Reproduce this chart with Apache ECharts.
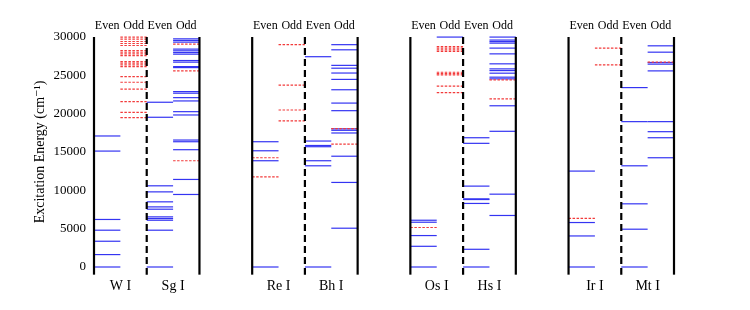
<!DOCTYPE html>
<html>
<head>
<meta charset="utf-8">
<script src="https://cdn.jsdelivr.net/npm/echarts@6/dist/echarts.min.js"></script>
<style>html,body{margin:0;padding:0;background:#fff;}#c{width:750px;height:310px;}</style>
</head>
<body>
<div id="c"></div>
<script>
// Element names (pairs share a group)
const elements = ['W I', 'Sg I', 'Re I', 'Bh I', 'Os I', 'Hs I', 'Ir I', 'Mt I'];
const parityLabels = ['Even', 'Odd'];
const yTicks = [0, 5000, 10000, 15000, 20000, 25000, 30000];

// Levels (cm^-1): solid blue and dashed red, for even and odd parity, per element
const W_evenBlue = [0, 1620, 3360, 4800, 6200, 15120, 17090];
const W_evenRed = [];
const W_oddBlue = [];
const W_oddRed = [19480, 20180, 21570, 23190, 24100, 24840, 26140, 26370, 26590, 26800, 27580, 27800, 28030, 28240, 28890, 29150, 29410, 29725, 29990];

const Sg_evenBlue = [0, 4800, 6100, 6320, 6540, 7540, 7840, 8500, 9800, 10590, 19530, 21490];
const Sg_evenRed = [];
const Sg_oddBlue = [9460, 11420, 15300, 16340, 16560, 19830, 20260, 21660, 22090, 22670, 22880, 26010, 26140, 26720, 26930, 27760, 27970, 28200, 28420, 29330, 29550, 29760];
const Sg_oddRed = [13860, 25580, 29070];

const Re_evenBlue = [0, 13860, 15160, 16340];
const Re_evenRed = [11760, 14250];
const Re_oddBlue = [];
const Re_oddRed = [19060, 20480, 23730, 29000];

const Bh_evenBlue = [0, 13200, 13860, 15690, 15850, 16430, 27430];
const Bh_evenRed = [];
const Bh_oddBlue = [5060, 11030, 14450, 17480, 17830, 18020, 20390, 21380, 23120, 24470, 25300, 25930, 26300, 28330, 29000];
const Bh_oddRed = [16040, 18060];

const Os_evenBlue = [0, 2700, 4100, 5840, 6100];
const Os_evenRed = [5150];
const Os_oddBlue = [29990];
const Os_oddRed = [22750, 23600, 25050, 25230, 25400, 28130, 28330, 28540, 28740];

const Hs_evenBlue = [0, 2310, 8290, 8800, 8890, 10550, 16130, 16860];
const Hs_evenRed = [];
const Hs_oddBlue = [6720, 9500, 17700, 21030, 24540, 24760, 25280, 25620, 25840, 26500, 27800, 28550, 29200, 29400, 29600, 29990];
const Hs_oddRed = [21920, 24410];

const Ir_evenBlue = [0, 4050, 5800, 12510];
const Ir_evenRed = [6330];
const Ir_oddBlue = [];
const Ir_oddRed = [26370, 28550];

const Mt_evenBlue = [0, 4930, 8240, 13200, 18960, 23400];
const Mt_evenRed = [];
const Mt_oddBlue = [14250, 16860, 17650, 18960, 25580, 26460, 26670, 28020, 28850];
const Mt_oddRed = [26720];

const evenBlue = [W_evenBlue, Sg_evenBlue, Re_evenBlue, Bh_evenBlue, Os_evenBlue, Hs_evenBlue, Ir_evenBlue, Mt_evenBlue];
const evenRed = [W_evenRed, Sg_evenRed, Re_evenRed, Bh_evenRed, Os_evenRed, Hs_evenRed, Ir_evenRed, Mt_evenRed];
const oddBlue = [W_oddBlue, Sg_oddBlue, Re_oddBlue, Bh_oddBlue, Os_oddBlue, Hs_oddBlue, Ir_oddBlue, Mt_oddBlue];
const oddRed = [W_oddRed, Sg_oddRed, Re_oddRed, Bh_oddRed, Os_oddRed, Hs_oddRed, Ir_oddRed, Mt_oddRed];

// layout in x-units: each group = 4 half-columns, plus 2 units gap
const GROUP = 6;
function elemStart(e) { return Math.floor(e / 2) * GROUP + (e % 2) * 2; }

const blueData = [], redData = [];
elements.forEach((name, e) => {
  const s = elemStart(e);
  evenBlue[e].forEach(v => blueData.push([s, v]));
  oddBlue[e].forEach(v => blueData.push([s + 1, v]));
  evenRed[e].forEach(v => redData.push([s, v]));
  oddRed[e].forEach(v => redData.push([s + 1, v]));
});

const vlines = [];
for (let g = 0; g < 4; g++) {
  vlines.push([g * GROUP, 0]);
  vlines.push([g * GROUP + 2, 1]);
  vlines.push([g * GROUP + 4, 0]);
}

const FONT = "'Liberation Serif', 'DejaVu Serif', serif";

function levelRenderer(color, dash, width) {
  return function (params, api) {
    const x0 = api.value(0), v = api.value(1);
    const p0 = api.coord([x0, v]);
    const p1 = api.coord([x0 + 1, v]);
    return {
      type: 'line',
      shape: { x1: p0[0], y1: p0[1], x2: p1[0], y2: p1[1] },
      style: { stroke: color, lineWidth: width, lineDash: dash }
    };
  };
}

const chart = echarts.init(document.getElementById('c'), null, { renderer: 'canvas' });
chart.setOption({
  animation: false,
  backgroundColor: '#fff',
  grid: { left: 94, right: 76, top: 37, bottom: 43 },
  xAxis: [
    {
      type: 'value', min: 0, max: 22, interval: 1, position: 'bottom',
      axisLine: { show: false }, axisTick: { show: false }, splitLine: { show: false },
      axisLabel: {
        margin: 12, fontFamily: FONT, fontSize: 14, color: '#000',
        formatter: function (v) {
          for (let e = 0; e < elements.length; e++) {
            if (Math.abs(elemStart(e) + 1 - v) < 1e-6) return elements[e];
          }
          return '';
        }
      }
    },
    {
      type: 'value', min: 0, max: 22, interval: 0.5, position: 'top',
      axisLine: { show: false }, axisTick: { show: false }, splitLine: { show: false },
      axisLabel: {
        margin: 5, fontFamily: FONT, fontSize: 12, color: '#000',
        formatter: function (v) {
          const k = v - Math.floor(v);
          if (Math.abs(k - 0.5) > 1e-6) return '';
          const u = Math.floor(v) % GROUP;
          if (u > 3) return '';
          return parityLabels[u % 2];
        }
      }
    }
  ],
  yAxis: {
    type: 'value', min: 0, max: 30000, interval: 5000,
    name: 'Excitation Energy (cm⁻¹)', nameLocation: 'middle', nameGap: 47,
    nameMoveOverlap: false,
    nameTextStyle: { fontFamily: FONT, fontSize: 14, color: '#000' },
    axisLine: { show: false }, axisTick: { show: false }, splitLine: { show: false },
    axisLabel: {
      margin: 8, fontFamily: FONT, fontSize: 13, color: '#000',
      formatter: function (v) { return String(v); }
    }
  },
  series: [
    {
      type: 'custom', xAxisIndex: 0, data: blueData, encode: { x: 0, y: 1 }, z: 2,
      renderItem: levelRenderer('#3434f2', null, 1.2)
    },
    {
      type: 'custom', xAxisIndex: 0, data: redData, encode: { x: 0, y: 1 }, z: 3,
      renderItem: levelRenderer('#f23a3a', [2.5, 1.5], 1.2)
    },
    {
      type: 'custom', xAxisIndex: 0, data: vlines, encode: { x: 0 }, z: 4, clip: false,
      renderItem: function (params, api) {
        const x = api.value(0), dashed = api.value(1);
        const top = api.coord([x, 30000]);
        const bot = api.coord([x, -1000]);
        return {
          type: 'line',
          shape: { x1: top[0], y1: top[1], x2: bot[0], y2: bot[1] },
          style: { stroke: '#000', lineWidth: 2.2, lineDash: dashed ? [7, 4] : null }
        };
      }
    }
  ]
});
</script>
</body>
</html>
